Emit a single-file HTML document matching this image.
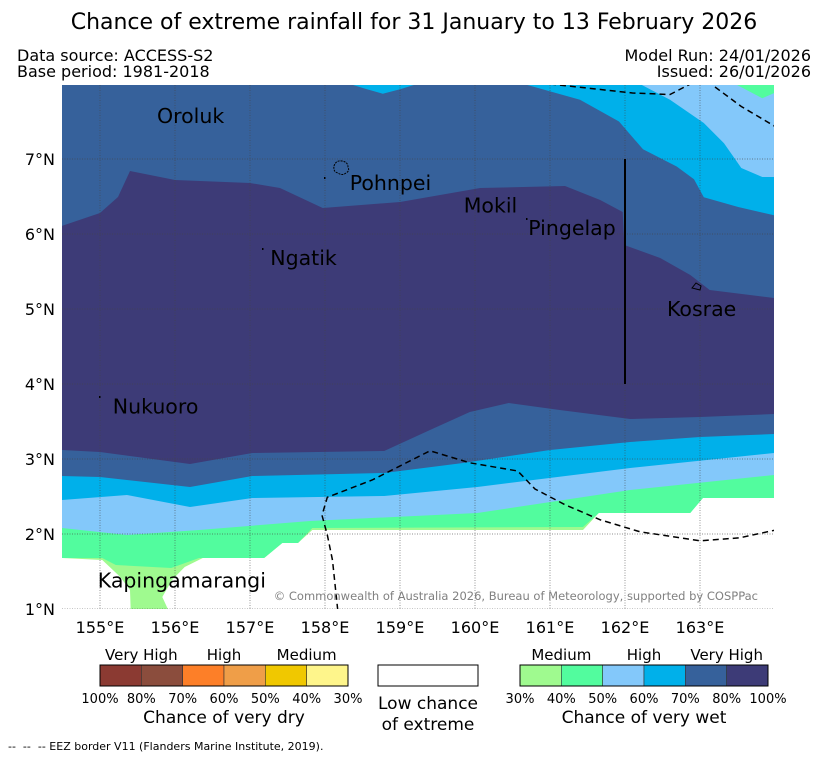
<!DOCTYPE html>
<html><head><meta charset="utf-8"><style>
html,body{margin:0;padding:0;background:#fff;}
svg{display:block;font-family:"DejaVu Sans","Liberation Sans",sans-serif;}
</style></head><body>
<svg id="chart" width="827" height="758" viewBox="0 0 827 758" xmlns="http://www.w3.org/2000/svg">
<text x="414" y="29" font-size="22" text-anchor="middle">Chance of extreme rainfall for 31 January to 13 February 2026</text>
<text x="17" y="61" font-size="16">Data source: ACCESS-S2</text>
<text x="17" y="77" font-size="16">Base period: 1981-2018</text>
<text x="811" y="61" font-size="16" text-anchor="end">Model Run: 24/01/2026</text>
<text x="811" y="77" font-size="16" text-anchor="end">Issued: 26/01/2026</text>
<defs><clipPath id="plotclip"><rect x="62" y="85" width="712" height="524"/></clipPath></defs>
<g id="map" clip-path="url(#plotclip)"></g>
<g id="axes"></g>
<g id="legend"></g>
<text x="8" y="750" font-size="11">-- &#160;-- &#160;-- EEZ border V11 (Flanders Marine Institute, 2019).</text>
</svg>
<script>
// ---- data: contour band boundaries (lon/lat) ----
const b30Lon=[154.49,155.03,155.27,155.4,155.41,155.91,155.83,155.96,156.13,156.37,157.19,157.43,157.64,157.83,161.44,161.65,162.27,162.87,163.04,163.53,163.99];
const b30Lat=[1.68,1.653,1.427,1.253,0.99,0.99,1.16,1.387,1.56,1.68,1.68,1.88,1.88,2.053,2.053,2.28,2.28,2.387,2.48,2.52,2.493];
const b40Lon=[154.49,155.03,155.21,155.95,156.32,157.19,157.43,157.64,157.83,161.44,161.65,162.87,163.04,163.99];
const b40Lat=[1.68,1.68,1.587,1.547,1.68,1.68,1.88,1.88,2.08,2.093,2.28,2.28,2.48,2.48];
const b50Lon=[154.49,155.36,156.32,157.8,160.03,162.07,163.99];
const b50Lat=[2.08,1.987,2.053,2.173,2.28,2.587,2.787];
const t50Lon=[163.99,163.83,163.47];
const t50Lat=[7.88,7.81,8];
const b60Lon=[154.49,155.36,156.2,157.03,158.79,160.03,162.07,163.99];
const b60Lat=[2.453,2.52,2.36,2.48,2.507,2.627,2.88,3.08];
const t60Lon=[163.99,163.83,163.55,163.32,163.05,162.6,162.2];
const t60Lat=[6.76,6.76,6.88,7.21,7.48,7.79,8];
const b70Lon=[154.49,155,156.2,157.03,158.79,159.84,161,162.07,163,163.99];
const b70Lat=[2.773,2.76,2.627,2.773,2.813,2.947,3.12,3.227,3.293,3.333];
const t70Lon=[163.99,163.51,163.05,162.92,162.69,162.24,161.92,161.4,160.65,159.23,159,158.77,158.56,158.33];
const t70Lat=[6.25,6.36,6.49,6.73,6.9,7.13,7.5,7.79,8,8,7.93,7.87,7.93,8];
const b80Lon=[154.49,155,156.2,157.03,158.79,159.4,159.93,160.45,161.13,162.07,163,163.99];
const b80Lat=[3.12,3.093,2.933,3.08,3.107,3.387,3.627,3.747,3.653,3.533,3.56,3.6];
const n80Lon=[163.99,163.13,162.87,162.47,161.99,161.97,161.67,161.2,160.07,159,157.97,157.4,157,156,155.4,155.24,155,154.49];
const n80Lat=[5.147,5.253,5.453,5.68,5.853,6.293,6.453,6.64,6.613,6.427,6.347,6.613,6.68,6.72,6.84,6.493,6.28,6.107];
const eez1Lon=[158.17,158.1,158.03,157.96,158.03,158.63,159.4,159.93,160.57,160.8,161.2,161.67,162.2,163,163.53,163.99];
const eez1Lat=[0.99,1.65,1.99,2.25,2.49,2.72,3.11,2.95,2.84,2.6,2.39,2.19,2.03,1.91,1.95,2.05];
const eez2Lon=[161.0,162.1,162.6,162.87];
const eez2Lat=[8.0,7.88,7.86,8.0];
const eez3Lon=[163.2,163.55,163.99];
const eez3Lat=[7.96,7.7,7.44];
const lonTicks=[155,156,157,158,159,160,161,162,163];
const latTicks=[1,2,3,4,5,6,7];
const islandNames=["Oroluk","Pohnpei","Mokil","Pingelap","Ngatik","Kosrae","Nukuoro","Kapingamarangi"];
const islandLon=[155.76,158.33,159.85,160.71,157.27,162.56,155.17,154.97];
const islandLat=[7.48,6.59,6.29,5.99,5.59,4.91,3.61,1.29];
const wetColors=["#9ffa8f","#52fc9e","#83c8fa","#00b0ea","#36619b","#3d3b77"];
const dryColors=["#8b3a32","#8b4d3d","#fd7f28","#ef9e48","#f0c800","#fef58b"];
const dryTicks=["100%","80%","70%","60%","50%","40%","30%"];
const wetTicks=["30%","40%","50%","60%","70%","80%","100%"];

const NS="http://www.w3.org/2000/svg";
function X(lon){return 100+(lon-155)*75;}
function Y(lat){return 159-(lat-7)*75;}
function mk(tag,attrs,parent){const e=document.createElementNS(NS,tag);for(const k in attrs)e.setAttribute(k,attrs[k]);parent.appendChild(e);return e;}
const map=document.getElementById('map');
const axes=document.getElementById('axes');
const legend=document.getElementById('legend');

function pts(lons,lats){return lons.map((l,i)=>X(l).toFixed(1)+","+Y(lats[i]).toFixed(1));}
function topEdge(){return [X(163.99).toFixed(1)+","+Y(8.05).toFixed(1),X(154.49).toFixed(1)+","+Y(8.05).toFixed(1)];}
function band(bLon,bLat,tLon,tLat,color,name){
  let p=pts(bLon,bLat);
  if(tLon){p=p.concat(pts(tLon,tLat));p.push(X(154.49).toFixed(1)+","+Y(8.05).toFixed(1));}
  else p=p.concat(topEdge());
  const e=mk('polygon',{points:p.join(' '),fill:color},map);
  
  
}
band(b30Lon,b30Lat,null,null,wetColors[0],'band-30-40');
band(b40Lon,b40Lat,null,null,wetColors[1],'band-40-50');
band(b50Lon,b50Lat,t50Lon,t50Lat,wetColors[2],'band-50-60');
band(b60Lon,b60Lat,t60Lon,t60Lat,wetColors[3],'band-60-70');
band(b70Lon,b70Lat,t70Lon,t70Lat,wetColors[4],'band-70-80');
{
  const p=pts(b80Lon,b80Lat).concat(pts(n80Lon,n80Lat));
  const e=mk('polygon',{points:p.join(' '),fill:wetColors[5]},map);
  
  
}
lonTicks.forEach(l=>{
  const e=mk('line',{x1:X(l),x2:X(l),y1:85,y2:609,stroke:"#444",'stroke-width':0.7,'stroke-dasharray':"1,1.5",opacity:0.8},map);
  
  
});
latTicks.forEach(l=>{
  const e=mk('line',{x1:62,x2:774,y1:Y(l),y2:Y(l),stroke:"#444",'stroke-width':0.7,'stroke-dasharray':"1,1.5",opacity:0.8},map);
  
  
});
[[eez1Lon,eez1Lat],[eez2Lon,eez2Lat],[eez3Lon,eez3Lat]].forEach((d,i)=>{
  const e=mk('polyline',{points:pts(d[0],d[1]).join(' '),fill:"none",stroke:"#000",'stroke-width':1.5,'stroke-dasharray':"6,4"},map);
  
  
});
{const e=mk('line',{x1:X(162),x2:X(162),y1:Y(7),y2:Y(4),stroke:"#000",'stroke-width':2},map);

}
{const e=mk('path',{d:"M334,166 q2,-6 8,-5 q6,1 6,6 q2,4 -2,6 q-4,3 -8,0 q-5,-1 -4,-7z",fill:"none",stroke:"#000",'stroke-width':1,'stroke-dasharray':"2,1"},map);


const k=mk('path',{d:"M692,288 l4,-5 l5,3 l-1,4z",fill:"none",stroke:"#000",'stroke-width':1},map);

}
[[324,177],[262,248],[99,396],[526,218]].forEach(p=>{
  const e=mk('rect',{x:p[0],y:p[1],width:1.5,height:2,fill:"#000"},map);
  
  
});
islandNames.forEach((n,i)=>{
  const t=mk('text',{x:X(islandLon[i]),y:Y(islandLat[i]),'font-size':20.5,fill:"#000"},map);
  t.textContent=n;
  
  
});
{const t=mk('text',{x:758,y:600,'font-size':11.5,fill:"#808080",'text-anchor':'end'},map);
t.textContent="© Commonwealth of Australia 2026, Bureau of Meteorology, supported by COSPPac";

}
lonTicks.forEach(l=>{
  const t=mk('text',{x:X(l),y:633,'font-size':16,'text-anchor':'middle'},axes);
  t.textContent=l+"°E";
  
  
});
latTicks.forEach(l=>{
  const t=mk('text',{x:55,y:Y(l)+6,'font-size':16,'text-anchor':'end'},axes);
  t.textContent=l+"°N";
  
  
});
function colorbar(x0,colors,ticks,heads,title,name){
  const w=248/6;
  colors.forEach((c,i)=>{
    const r=mk('rect',{x:x0+i*w,y:665,width:w,height:21,fill:c,stroke:"#333",'stroke-width':0.6},legend);
    
    
  });
  const fr=mk('rect',{x:x0,y:665,width:248,height:21,fill:"none",stroke:"#000",'stroke-width':1},legend);
  
  
  ticks.forEach((t,i)=>{
    const e=mk('text',{x:x0+i*w,y:703,'font-size':13,'text-anchor':'middle'},legend);
    e.textContent=t;
    
    
  });
  heads.forEach((h,i)=>{
    const e=mk('text',{x:x0+w*(1+2*i),y:660,'font-size':15,'text-anchor':'middle'},legend);
    e.textContent=h;
    
    
  });
  const tt=mk('text',{x:x0+124,y:723,'font-size':17,'text-anchor':'middle'},legend);
  tt.textContent=title;
  
  
}
colorbar(100,dryColors,dryTicks,["Very High","High","Medium"],"Chance of very dry","dry-colorbar");
colorbar(520,wetColors,wetTicks,["Medium","High","Very High"],"Chance of very wet","wet-colorbar");
{const r=mk('rect',{x:378,y:665,width:100,height:21,fill:"#fff",stroke:"#000",'stroke-width':1},legend);


const a=mk('text',{x:428,y:709,'font-size':17,'text-anchor':'middle'},legend);a.textContent="Low chance";


const b=mk('text',{x:428,y:730,'font-size':17,'text-anchor':'middle'},legend);b.textContent="of extreme";

}
</script>
</body></html>
